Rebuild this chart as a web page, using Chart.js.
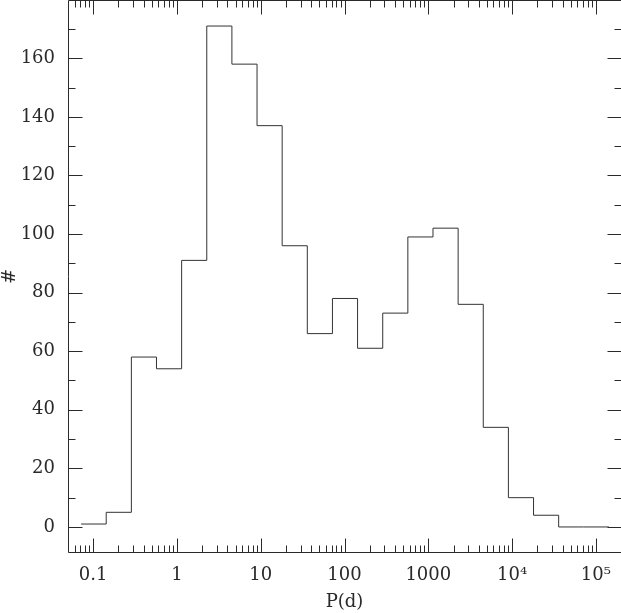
<!DOCTYPE html>
<html>
<head>
    <title>P(d) histogram</title>
    <script src="https://cdn.jsdelivr.net/npm/chart.js@4.4.1/dist/chart.umd.min.js"></script>
    <style>
        body { margin: 0; background: #fff; }
    </style>
</head>
<body>
    <canvas id="histChart" width="621" height="613"></canvas>

    <script>
        // bin edges (days), 0.3 dex wide
        const binEdges = [0.0718, 0.1432, 0.2858, 0.570, 1.138, 2.270, 4.529, 9.036, 18.03, 35.97,
                          71.78, 143.2, 285.8, 570.2, 1138, 2270, 4529, 9036, 18030, 35975, 71779, 143219];
        // counts per bin
        const counts = [1, 5, 58, 54, 91, 171, 158, 137, 96, 66, 78, 61, 73, 99, 102, 76, 34, 10, 4, 0, 0];

        const xTickValues = [0.1, 1, 10, 100, 1000, 10000, 100000];
        const xTickLabels = ['0.1', '1', '10', '100', '1000', '10\u2074', '10\u2075'];
        const yTickValues = [0, 20, 40, 60, 80, 100, 120, 140, 160];
        const yMinorValues = [10, 30, 50, 70, 90, 110, 130, 150, 170];

        const xTitle = 'P(d)';
        const yTitle = '#';

        const FONT = "'DejaVu Serif', serif";
        const INK = '#2a2a2a';

        // step points: each bin's lower edge with its count, plus the closing edge
        const points = counts.map((c, i) => ({ x: binEdges[i], y: c }));
        points.push({ x: binEdges[binEdges.length - 1], y: counts[counts.length - 1] });

        // frame + inward tick marks on all four sides
        const frameTicks = {
            id: 'frameTicks',
            afterDraw(chart) {
                const ctx = chart.ctx;
                const a = chart.chartArea;
                const xs = chart.scales.x;
                const ys = chart.scales.y;
                const L = a.left + 0.5, R = a.right + 0.5, T = a.top + 0.5, B = a.bottom + 0.5;

                ctx.save();
                ctx.strokeStyle = INK;
                ctx.lineWidth = 1;
                ctx.beginPath();
                ctx.rect(L, T - 1, R - L, B - T + 1);
                ctx.stroke();

                function vTick(v, len) {
                    const px = Math.round(xs.getPixelForValue(v)) + 0.5;
                    ctx.moveTo(px, B); ctx.lineTo(px, B - len);
                    ctx.moveTo(px, T - 1); ctx.lineTo(px, T - 1 + len);
                }
                function hTick(v, len) {
                    const py = Math.round(ys.getPixelForValue(v)) + 0.5;
                    ctx.moveTo(L, py); ctx.lineTo(L + len, py);
                    ctx.moveTo(R, py); ctx.lineTo(R - len, py);
                }

                ctx.beginPath();
                xTickValues.forEach(v => vTick(v, 14));
                // minor decade ticks 2..9
                for (let d = -2; d <= 5; d++) {
                    for (let m = 2; m <= 9; m++) {
                        const v = m * Math.pow(10, d);
                        if (v > xs.min && v < xs.max) vTick(v, 7);
                    }
                }
                yTickValues.forEach(v => hTick(v, 14));
                yMinorValues.forEach(v => hTick(v, 7));
                ctx.stroke();
                ctx.restore();
            }
        };

        const ctx = document.getElementById('histChart').getContext('2d');
        const histChart = new Chart(ctx, {
            type: 'line',
            data: {
                datasets: [{
                    data: points,
                    stepped: 'before',
                    borderColor: '#333',
                    borderWidth: 1,
                    pointRadius: 0,
                    fill: false
                }]
            },
            options: {
                responsive: false,
                animation: false,
                layout: { padding: { top: 1, right: 0, left: 0, bottom: 0 } },
                plugins: {
                    legend: { display: false },
                    tooltip: { enabled: false }
                },
                scales: {
                    x: {
                        type: 'logarithmic',
                        min: 0.0501,
                        max: 199500,
                        afterBuildTicks: s => { s.ticks = xTickValues.map(v => ({ value: v, major: true })); },
                        afterFit: s => { s.height = 61; s.paddingLeft = 0; s.paddingRight = 0; },
                        grid: { display: false, drawTicks: false },
                        border: { display: false },
                        ticks: {
                            autoSkip: false,
                            maxRotation: 0,
                            padding: 13,
                            color: INK,
                            font: { family: FONT, size: 18 },
                            callback: (v, i) => xTickLabels[i]
                        },
                        title: {
                            display: true,
                            text: xTitle,
                            color: INK,
                            padding: 0,
                            font: { family: FONT, size: 18 }
                        }
                    },
                    y: {
                        min: -8.55,
                        max: 179.55,
                        afterBuildTicks: s => { s.ticks = yTickValues.map(v => ({ value: v })); },
                        afterFit: s => { s.width = 68; s.paddingTop = 0; s.paddingBottom = 0; },
                        grid: { display: false, drawTicks: false },
                        border: { display: false },
                        ticks: {
                            padding: 13,
                            color: INK,
                            font: { family: FONT, size: 18 }
                        },
                        title: {
                            display: true,
                            text: yTitle,
                            color: INK,
                            padding: 0,
                            font: { family: FONT, size: 18 }
                        }
                    }
                }
            },
            plugins: [frameTicks]
        });
    </script>
</body>
</html>
